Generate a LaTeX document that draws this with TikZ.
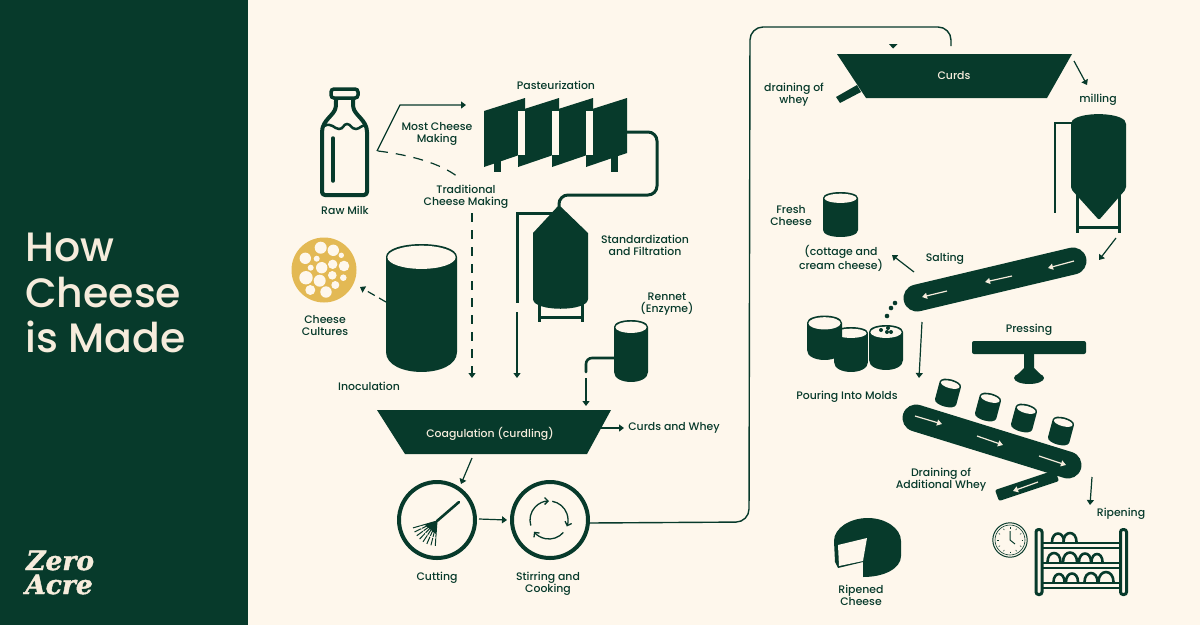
\documentclass[tikz,border=0pt]{standalone}
\usepackage{xcolor}
\usepackage{fontspec}
\usetikzlibrary{arrows.meta,positioning,shapes}
\setmainfont{Poppins}[UprightFont=* Medium]
\newfontfamily\logofont[BoldItalicFeatures={FakeBold=1.6}]{DejaVu Serif}

\definecolor{pine}{HTML}{073A2B}
\definecolor{paper}{HTML}{FEF7EC}
\definecolor{cream}{HTML}{F6ECDC}
\definecolor{culture}{HTML}{E3B954}

\tikzset{
    caption/.style={inner sep=0pt,align=center,text=pine,font=\fontsize{10.9}{12}\selectfont},
    oncolor/.style={caption,text=cream},
    flow/.style={draw=pine,line width=1.2pt,-{Triangle[length=5pt,width=7pt]}},
    dashflow/.style={flow,dash pattern=on 9pt off 8pt},
    pipe/.style={draw=pine,line width=3pt,line cap=round,rounded corners=6pt},
    belt/.style={draw=pine,line width=27pt,line cap=round},
    beltarrow/.style={draw=cream,line width=1.2pt,-{Triangle[length=5pt,width=6pt]}},
}

% drum: x left, x right, y top, top bulge, y bottom, bottom bulge
\newcommand{\drum}[6]{
    \fill[pine] (#1,#3) .. controls (#1,{#3-1.33*#4}) and (#2,{#3-1.33*#4}) .. (#2,#3)
        -- (#2,#5) .. controls (#2,{#5+1.33*#6}) and (#1,{#5+1.33*#6}) .. (#1,#5) -- cycle;
    \fill[paper] ({(#1+#2)/2},{#3+0.3}) ellipse [x radius={(#2-#1)/2-1.4},y radius={#4-1.4}];
}

\begin{document}
\begin{tikzpicture}[x=1pt,y=-1pt]
    \useasboundingbox (0,0) rectangle (1200,625);
    \fill[paper] (0,0) rectangle (1200,625);
    \fill[pine] (0,0) rectangle (248,625);

    % Title and logo
    \node[anchor=base west,inner sep=0pt,text=cream,font=\fontsize{41}{46}\selectfont] (titleA) at (25,261) {How};
    \node[anchor=base west,inner sep=0pt,text=cream,font=\fontsize{41}{46}\selectfont] (titleB) at (25,307) {Cheese};
    \node[anchor=base west,inner sep=0pt,text=cream,font=\fontsize{41}{46}\selectfont] (titleC) at (25,352) {is Made};
    \node[anchor=base west,inner sep=0pt,text=cream,font=\logofont\bfseries\itshape\fontsize{26.5}{28}\selectfont] (logoA) at (26,570) {Zero};
    \node[anchor=base west,inner sep=0pt,text=cream,font=\logofont\bfseries\itshape\fontsize{26.5}{28}\selectfont] (logoB) at (25,594) {Acre};

    % Milk bottle
    \draw[pine,line width=3.5pt,rounded corners=3pt] (331,89) rectangle (358,98);
    \draw[pine,line width=4pt,line join=round,rounded corners=3pt] (336,99) -- (336,104)
        .. controls (335,115) and (322,120) .. (322,135) -- (322,195) -- (367,195) -- (367,135)
        .. controls (367,120) and (354,115) .. (353,104) -- (353,99);
    \draw[pine,line width=2.5pt] (324,126) .. controls (332,122) and (334,129) .. (339,129)
        .. controls (344,129) and (343,124) .. (347,124) .. controls (351,124) and (351,129) .. (356,129)
        .. controls (360,129) and (362,124) .. (366,126);
    \draw[pine,line width=3.5pt,line cap=round] (333,138) -- (333,181);
    \node[caption] (rawmilk) at (345,210) {Raw Milk};

    % Pasteurization panels
    \foreach \i in {0,1,2,3} {
        \fill[pine] ({484+34*\i},111) -- ({525+34*\i},98) -- ({525+34*\i},153) -- ({484+34*\i},167) -- cycle;
    }
    \foreach \i in {0,1,2} {
        \fill[paper] ({518+34*\i},110.5) rectangle ({525+34*\i},155);
    }
    \fill[pine] (493.5,160) rectangle (501,172);
    \fill[pine] (610.5,152) rectangle (618,172);
    \node[caption] (pasteur) at (556,85) {Pasteurization};

    % Standardization tank
    \coordinate (panelout) at (627,132);
    \coordinate (tanktop) at (559,206);
    \draw[pipe,rounded corners=9pt] (panelout) -- (657,132) -- (657,195) -- (559,195) -- (tanktop);
    \draw[pine,line width=3pt] (539,303) -- (539,322) (582,303) -- (582,322) (539,317) -- (582,317);
    \fill[pine] (559,205) -- (588,233) -- (588,299) .. controls (588,312) and (533,312) .. (533,299) -- (533,233) -- cycle;
    \draw[pipe,line cap=butt,rounded corners=0pt] (555,213) -- (517,213) -- (517,303);
    \node[caption] (standard) at (645,245) {Standardization\\and Filtration};

    % Inoculation drum and cultures
    \drum{386}{457}{257}{13}{352}{20}
    \node[caption] (inoc) at (369,386.5) {Inoculation};
    \fill[culture] (324,270) circle (32.5);
    \foreach \x/\y/\r in {320.7/247.7/6,333.3/250.3/5.7,305.3/258.3/5.7,316.7/258.7/3,341.3/255.3/2.7,321.7/267.7/5.7,332.7/264.3/4.7,344/266/5.3,310.7/267.7/3,306/277.7/6.7,319.7/280.7/6,332.3/275.3/4.3,343.3/277.7/3.3,335.3/285/4,310.3/290/5,326/292/5.7} {
        \fill[paper] (\x,\y) circle (\r);
    }
    \node[caption] (cultures) at (325,326) {Cheese\\Cultures};

    % Rennet
    \drum{614}{648}{327}{7}{372}{10}
    \node[caption] (rennet) at (667,304) {Rennet\\(Enzyme)};
    \draw[pipe,line width=2.6pt] (614,358) -- (586,358) -- (586,372);

    % Coagulation vat
    \fill[pine] (377,410) -- (611,410) -- (587,454) -- (405,454) -- cycle;
    \node[oncolor] (coag) at (490,434) {Coagulation (curdling)};
    \node[caption] (whey) at (674,428) {Curds and Whey};

    % Arrows at the top of the vat
    \coordinate (milkout) at (377,151);
    \coordinate (bendA) at (400,105);
    \coordinate (panelin) at (466,105);
    \coordinate (dashstart) at (378,151);
    \coordinate (dashend) at (458,177);
    \coordinate (vatdash) at (472,378);
    \coordinate (vatdashtop) at (472,213);
    \coordinate (filtertop) at (517,312);
    \coordinate (filterend) at (517,378);
    \coordinate (rennettop) at (586,378);
    \coordinate (rennetend) at (586,406);
    \coordinate (drumside) at (386,302);
    \coordinate (culturein) at (360,287);
    \coordinate (vatright) at (601,428);
    \coordinate (wheyin) at (624,428);
    \draw[flow] (milkout) -- (bendA) -- (panelin);
    \draw[pine,line width=1.2pt,dash pattern=on 10pt off 8pt] (dashstart) .. controls (410,155) and (440,163) .. (dashend);
    \draw[dashflow] (vatdashtop) -- (vatdash);
    \draw[flow] (filtertop) -- (filterend);
    \draw[flow] (rennettop) -- (rennetend);
    \draw[flow,dash pattern=on 8pt off 5pt] (drumside) -- (culturein);
    \draw[flow] (vatright) -- (wheyin);
    \node[caption] (most) at (437,134) {Most Cheese\\Making};
    \node[caption] (trad) at (466,197) {Traditional\\Cheese Making};

    % Cutting and stirring
    \draw[pine,line width=4pt] (437,520) circle (38);
    \draw[pine,line width=4pt] (550,520) circle (38);
    \coordinate (hub) at (437,521);
    \draw[pine,line width=2.6pt,line cap=round] (hub) -- (459,502);
    \begin{scope}[shift={(hub)}]
        \fill[pine] (0,0) -- (164:13) -- (95:13) -- cycle;
        \foreach \a in {164,154,...,94} {
            \draw[pine,line width=1pt] (0,0) -- (\a:25);
        }
        \draw[paper,line width=0.7pt] (164:17) arc[start angle=164,end angle=90,radius=17];
    \end{scope}
    \coordinate (stir) at (549,520);
    \draw[pine,line width=1.3pt,-{Straight Barb[length=3.5pt,width=7pt]}] (stir) ++(163:19) arc[start angle=163,end angle=270,radius=19];
    \draw[pine,line width=1.3pt,-{Straight Barb[length=3.5pt,width=7pt]}] (stir) ++(-80:19) arc[start angle=-80,end angle=20,radius=19];
    \draw[pine,line width=1.3pt,-{Straight Barb[length=3.5pt,width=7pt]}] (stir) ++(41:19) arc[start angle=41,end angle=142,radius=19];
    \coordinate (vatlow) at (472,458);
    \coordinate (cutin) at (461,484);
    \coordinate (cutout) at (479,519);
    \coordinate (stirin) at (507,520);
    \coordinate (stirout) at (589,523);
    \draw[flow] (vatlow) -- (cutin);
    \draw[flow] (cutout) -- (stirin);
    \node[caption] (cutting) at (437,577.5) {Cutting};
    \node[caption] (stirring) at (548,583.5) {Stirring and\\Cooking};

    % Long run to the curds vat
    \coordinate (curdsin) at (951,46);
    \draw[pine,line width=1.4pt,rounded corners=13pt] (stirout) -- (749,522) -- (750,27) -- (951,27) -- (curdsin);
    \fill[pine] (889,44) -- (897.5,44) -- (893,48.5) -- cycle;

    % Curds vat
    \fill[pine] (837,54) -- (1072,54) -- (1047,98) -- (866,98) -- cycle;
    \fill[pine] (857,85) -- (861,92) -- (840,103) -- (836,97) -- cycle;
    \node[oncolor] (curds) at (954,76) {Curds};
    \node[caption] (drainwhey) at (794,95) {draining of\\whey};
    \node[caption] (milling) at (1098,100) {milling};
    \coordinate (curdsright) at (1074,61);
    \coordinate (millin) at (1087,85);
    \draw[flow] (curdsright) -- (millin);

    % Milling tank
    \draw[pine,line width=3pt] (1077,190) -- (1077,233) (1119,190) -- (1119,233) (1077,227) -- (1119,227);
    \draw[pine,line width=2.6pt] (1072,123) -- (1055,123) -- (1055,213);
    \fill[pine,rounded corners=2pt] (1071,122) .. controls (1080,112) and (1117,112) .. (1126,122)
        -- (1126,189) -- (1099,220) -- (1071,189) -- cycle;

    % Salting belt
    \coordinate (beltAleft) at (917,298);
    \coordinate (beltAright) at (1073,261);
    \draw[belt] (beltAleft) -- (beltAright);
    \coordinate (a1) at (947,291); \coordinate (a2) at (922,297);
    \coordinate (a3) at (1012,276); \coordinate (a4) at (985,282);
    \coordinate (a5) at (1074,261); \coordinate (a6) at (1048,268);
    \draw[beltarrow] (a1) -- (a2);
    \draw[beltarrow] (a3) -- (a4);
    \draw[beltarrow] (a5) -- (a6);
    \coordinate (millout) at (1116,238);
    \coordinate (beltAin) at (1099,260);
    \draw[flow] (millout) -- (beltAin);
    \node[caption] (salting) at (945,258.5) {Salting};

    % Fresh cheese
    \drum{823}{858}{198}{6}{230}{7}
    \node[caption] (fresh) at (791,216) {Fresh\\Cheese};
    \node[caption] (cottage) at (841,258) {(cottage and\\cream cheese)};
    \coordinate (saltout) at (914,272);
    \coordinate (freshin) at (892,255);
    \draw[flow] (saltout) -- (freshin);

    % Molds
    \foreach \x/\y in {895/303,891/308,887/316} {
        \fill[pine] (\x,\y) circle (2.3);
    }
    \drum{834}{868}{333}{6}{362}{10}
    \drum{807}{842}{323}{7.5}{350}{10}
    \drum{869}{903}{332}{7}{360}{10}
    \draw[paper,line width=0.5pt] (868.5,332) -- (868.5,366);
    \foreach \x/\y in {881/330,887/332,891/332,888/328} {
        \fill[pine] (\x,\y) circle (2);
    }
    \node[caption] (pouring) at (847,396.5) {Pouring Into Molds};
    \coordinate (beltAlow) at (922,322);
    \coordinate (beltBin) at (919,378);
    \draw[flow] (beltAlow) -- (beltBin);

    % Press
    \fill[pine,rounded corners=2pt] (972,341) rectangle (1086,354);
    \fill[pine] (1024,354) -- (1034,354) -- (1034,368) -- (1040,374) -- (1018,374) -- (1024,368) -- cycle;
    \fill[pine] (1029,378) ellipse [x radius=15,y radius=6];
    \node[caption] (pressing) at (1029,330) {Pressing};

    % Pressing belt
    \foreach \x/\y in {948/393,988/407,1024/418,1061/431} {
        \begin{scope}[shift={(\x,\y)},rotate=-15]
            \drum{-11}{11}{-9}{5}{9}{5}
        \end{scope}
    }
    \fill[pine,rounded corners=2pt] (995,490) -- (999,501) -- (1059,481) -- (1055,470) -- cycle;
    \coordinate (beltBleft) at (916,418);
    \coordinate (beltBright) at (1068,465);
    \draw[belt] (beltBleft) -- (beltBright);
    \coordinate (b1) at (915,416); \coordinate (b2) at (942,424);
    \coordinate (b3) at (977,436); \coordinate (b4) at (1003,445);
    \coordinate (b5) at (1039,456); \coordinate (b6) at (1066,465);
    \coordinate (b7) at (1038,482); \coordinate (b8) at (1013,491);
    \draw[beltarrow] (b1) -- (b2);
    \draw[beltarrow] (b3) -- (b4);
    \draw[beltarrow] (b5) -- (b6);
    \draw[beltarrow] (b7) -- (b8);
    \node[caption] (addwhey) at (941,480) {Draining of\\Additional Whey};
    \coordinate (beltBlow) at (1092,477);
    \coordinate (rackin) at (1090,505);
    \draw[flow] (beltBlow) -- (rackin);
    \node[caption] (ripening) at (1121,513.5) {Ripening};

    % Ripened cheese wheel
    \fill[pine] (863,577) .. controls (885,577) and (901,568) .. (901,556) -- (901,541)
        .. controls (901,528) and (885,518) .. (868,518) .. controls (850,518) and (834,528) .. (834,541)
        -- (835,562) -- (838,568) -- (863,562) -- cycle;
    \fill[paper] (838,545) -- (867,538) -- (863,561) -- (839,566) -- cycle;
    \node[caption] (ripened) at (861,595) {Ripened\\Cheese};

    % Clock
    \coordinate (clock) at (1010,540);
    \draw[pine,line width=1pt] (clock) circle (17.2);
    \draw[pine,line width=0.6pt] (clock) circle (15);
    \foreach \a in {0,30,...,330} {
        \draw[pine,line width=0.6pt,shift={(clock)}] (\a:11.5) -- (\a:13);
    }
    \draw[pine,line width=1pt] (1010,531) -- (clock) -- (1015,544);

    % Rack
    \foreach \x/\y/\r in {1058/542/6,1070/542/6.5,1054/562/6.5,1070/562/7,1085/562/6,1097/562/5.5,1059/582/5.5,1072/582/6,1091/582/6.5,1106/582/7.5} {
        \draw[pine,line width=2.6pt,fill=paper] ({\x-\r},\y) .. controls ({\x-\r},{\y-1.33*(\r+2.5)}) and ({\x+\r},{\y-1.33*(\r+2.5)}) .. ({\x+\r},\y);
    }
    \foreach \y in {543,563,583} {
        \draw[pine,line width=2pt] (1040,\y) -- (1122,\y);
        \draw[pine,line width=2pt] (1040,\y+5) -- (1122,\y+5);
    }
    \draw[pine,line width=3pt,fill=paper,rounded corners=2.5pt] (1036,529.5) rectangle (1042,594.5);
    \draw[pine,line width=3pt,fill=paper,rounded corners=2.5pt] (1120.5,529.5) rectangle (1126.5,594.5);
\end{tikzpicture}
\end{document}
